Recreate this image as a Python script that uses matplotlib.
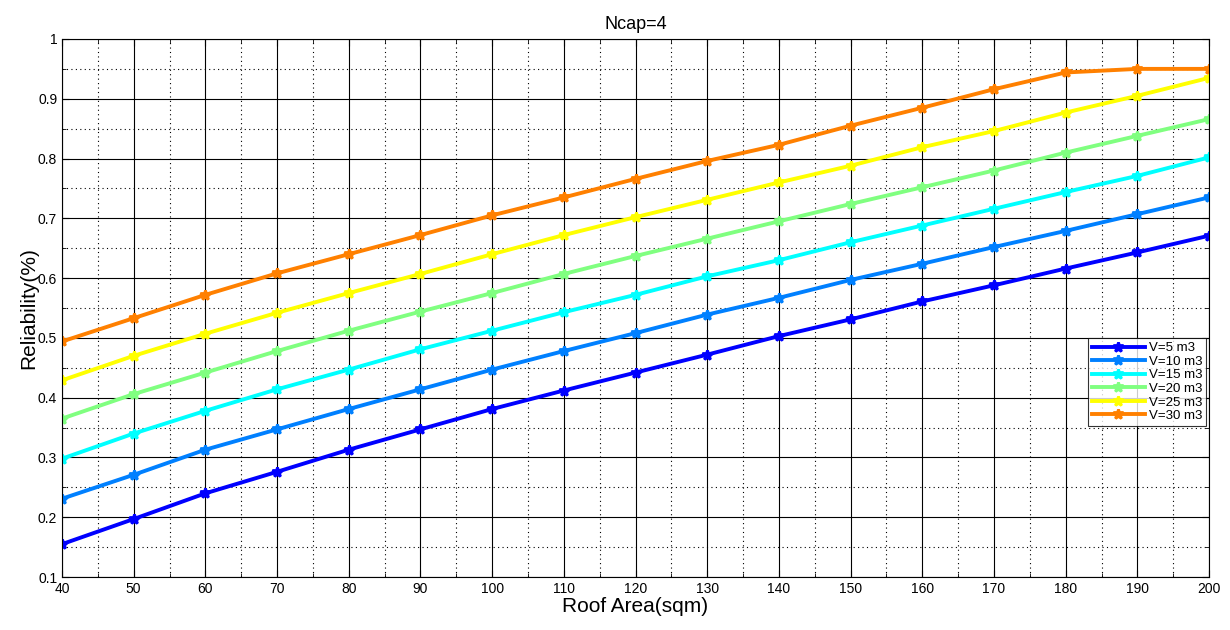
import numpy as np
import matplotlib.pyplot as plt
from matplotlib.ticker import MultipleLocator, FormatStrFormatter

plt.rcParams['font.family'] = ['Liberation Sans', 'DejaVu Sans']

# Roof area (sqm) and reliability for each tank volume
roof_area = [40, 50, 60, 70, 80, 90, 100, 110, 120, 130, 140, 150, 160, 170, 180, 190, 200]
rel_v5 = [0.155, 0.197, 0.240, 0.276, 0.313, 0.347, 0.381, 0.412, 0.442, 0.472,
          0.503, 0.531, 0.561, 0.588, 0.616, 0.643, 0.671]
rel_v10 = [0.231, 0.271, 0.313, 0.347, 0.381, 0.414, 0.447, 0.478, 0.508, 0.539,
           0.567, 0.597, 0.624, 0.652, 0.679, 0.707, 0.735]
rel_v15 = [0.298, 0.340, 0.378, 0.414, 0.447, 0.481, 0.512, 0.543, 0.572, 0.603,
           0.630, 0.660, 0.688, 0.716, 0.744, 0.771, 0.802]
rel_v20 = [0.365, 0.406, 0.442, 0.478, 0.512, 0.544, 0.575, 0.607, 0.637, 0.666,
           0.695, 0.724, 0.752, 0.780, 0.810, 0.838, 0.866]
rel_v25 = [0.429, 0.470, 0.507, 0.542, 0.575, 0.607, 0.640, 0.672, 0.702, 0.731,
           0.760, 0.788, 0.819, 0.846, 0.877, 0.905, 0.935]
rel_v30 = [0.494, 0.533, 0.572, 0.608, 0.640, 0.672, 0.705, 0.735, 0.766, 0.796,
           0.823, 0.855, 0.885, 0.916, 0.944, 0.950, 0.950]

labels = ['V=5 m3', 'V=10 m3', 'V=15 m3', 'V=20 m3', 'V=25 m3', 'V=30 m3']
colors = ['#0000ff', '#0080ff', '#00ffff', '#80ff80', '#ffff00', '#ff8000']
series = [rel_v5, rel_v10, rel_v15, rel_v20, rel_v25, rel_v30]

fig = plt.figure(figsize=(12.3, 6.3), dpi=100)
ax = fig.add_axes([0.0504, 0.0841, 0.9326, 0.8540])

for vals, col, lab in zip(series, colors, labels):
    ax.plot(roof_area, vals, color=col, lw=2.8, marker='*', ms=7,
            mew=2, mec=col, mfc=col, label=lab)

ax.set_xlim(40, 200)
ax.set_ylim(0.1, 1)
ax.xaxis.set_major_locator(MultipleLocator(10))
ax.xaxis.set_minor_locator(MultipleLocator(5))
ax.yaxis.set_major_locator(MultipleLocator(0.1))
ax.yaxis.set_minor_locator(MultipleLocator(0.05))
ax.yaxis.set_major_formatter(FormatStrFormatter('%g'))

ax.grid(which='major', color='black', lw=0.8, ls='-')
ax.grid(which='minor', color='black', lw=0.8, ls=(0, (1, 3)))
ax.set_axisbelow(True)
ax.tick_params(which='both', direction='in', labelsize=10, top=True, right=True)
ax.tick_params(which='major', length=5)
ax.tick_params(which='minor', length=3)
for sp in ax.spines.values():
    sp.set_linewidth(0.8)

ax.set_xlabel('Roof Area(sqm)', fontsize=15, labelpad=1)
ax.set_ylabel('Reliability(%)', fontsize=15, labelpad=0)
ax.set_title('Ncap=4', fontsize=13, pad=7)

leg = ax.legend(loc='upper left', bbox_to_anchor=(0.8945, 0.444), fontsize=9.5,
                frameon=True, fancybox=False, edgecolor='black',
                handlelength=4, handletextpad=0.3, labelspacing=0.1,
                borderpad=0.3, borderaxespad=0)
leg.get_frame().set_linewidth(0.8)

fig.savefig('out.png', dpi=100)
